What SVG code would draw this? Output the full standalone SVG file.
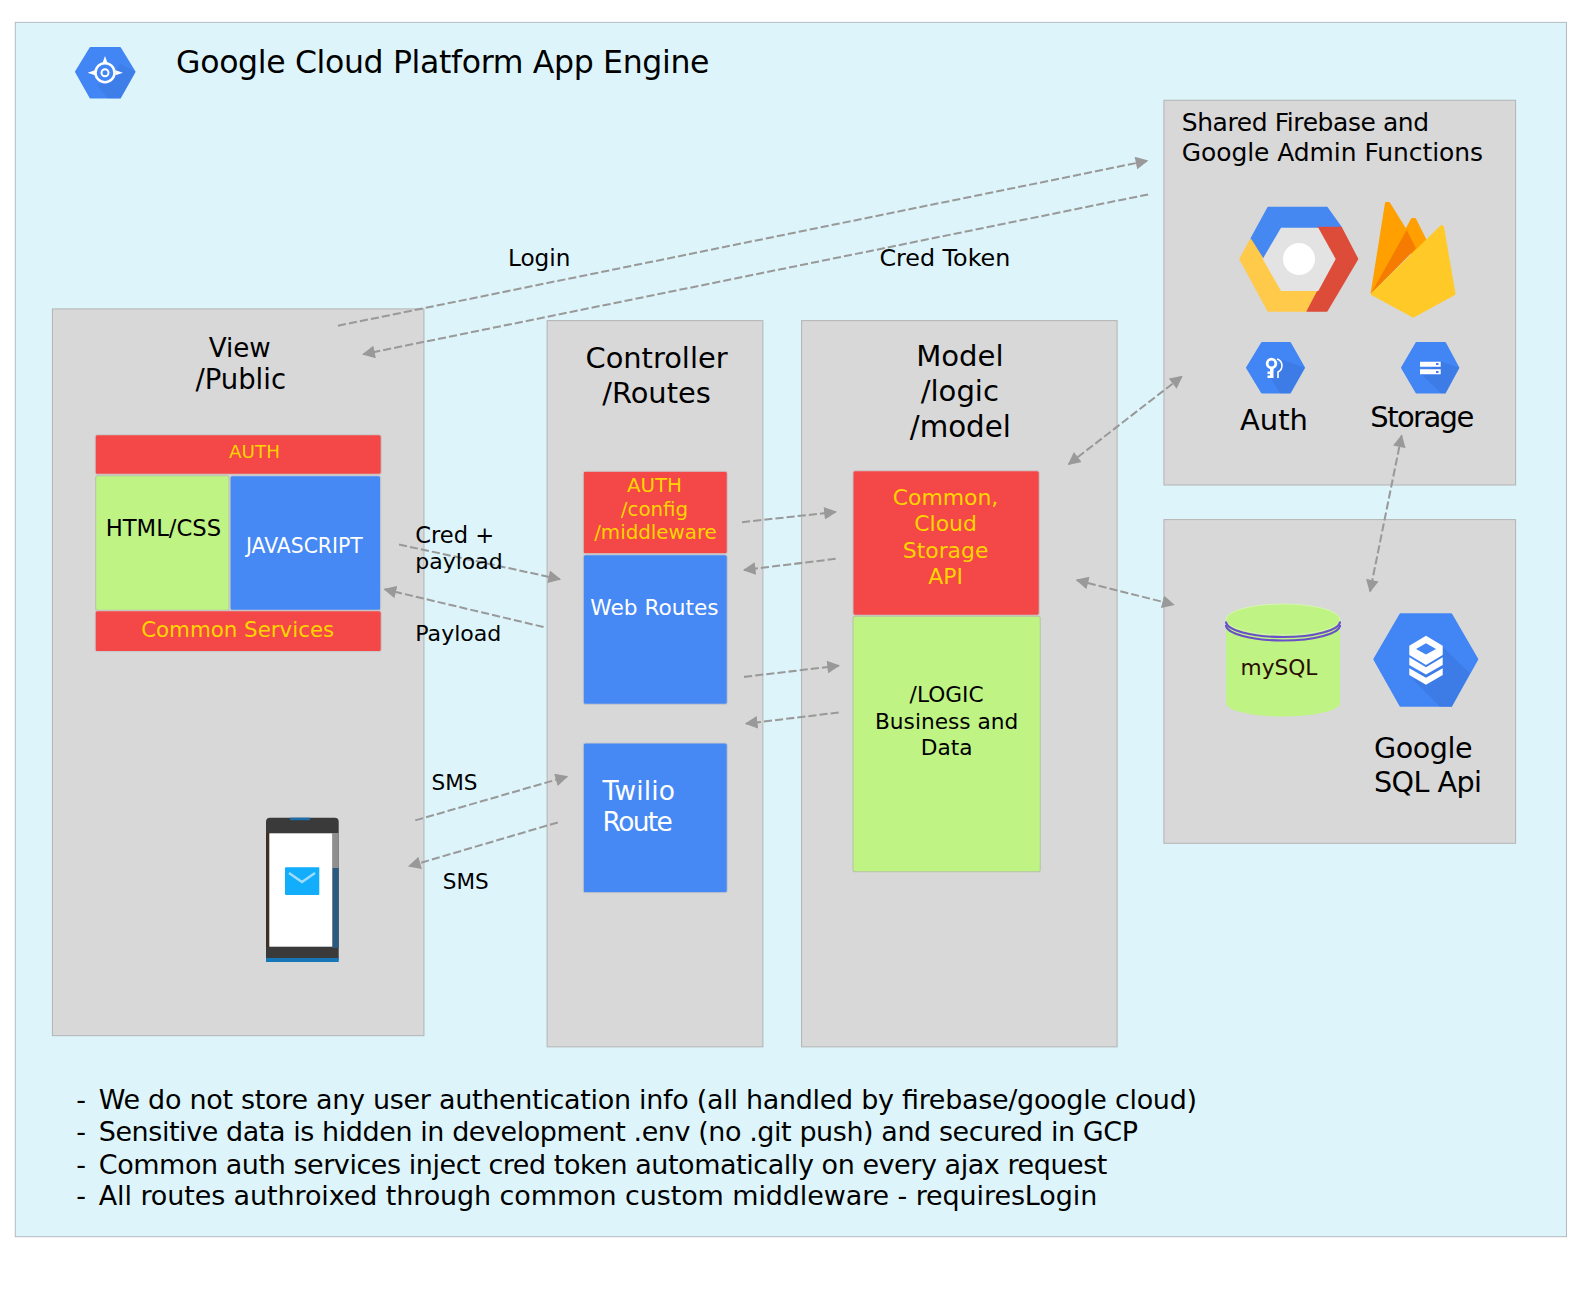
<svg xmlns="http://www.w3.org/2000/svg" width="1596" height="1296" viewBox="0 0 1596 1296">
<style>
text{font-family:"DejaVu Sans","Liberation Sans",sans-serif;fill:#000}
.panel{fill:#d8d8d8;stroke:#b4b4b4;stroke-width:1}
.red{fill:#f44747;stroke:#c9c9c9;stroke-width:1}
.green{fill:#bff384;stroke:#b4c4a4;stroke-width:1}
.blue{fill:#4688f4;stroke:#c9c9c9;stroke-width:1}
.y{fill:#ffd500}
.w{fill:#fff}
.m{text-anchor:middle}
.c{fill:none;stroke:#999;stroke-width:2;stroke-dasharray:8 3}
.hex{fill:#4285f4;stroke:#4285f4;stroke-width:2;stroke-linejoin:round}
.shade{fill:#3a77dc}
.rj{stroke-width:2;stroke-linejoin:round}
</style>
<defs>
<marker id="a" viewBox="0 0 10 10" refX="9" refY="5" markerWidth="13" markerHeight="12.500" markerUnits="userSpaceOnUse" orient="auto-start-reverse"><path d="M0 0L10 5L0 10Z" fill="#999"/></marker>
</defs>
<g id="scene" transform="scale(1.01786)">
<rect id="background" x="15" y="22" width="1524" height="1193" fill="#ddf5fa" stroke="#b4bcc0"/>
<g id="title">
<text x="173" y="72" font-size="31" textLength="524">Google Cloud Platform App Engine</text>
</g>
<g id="view">
<rect class="panel" x="51.500" y="303.500" width="365" height="714"/>
<text class="m" x="235.500" y="351" font-size="25.700">View</text>
<text class="m" x="236.500" y="382" font-size="27">/Public</text>
</g>
<g id="view-auth"><rect class="red" x="93.500" y="427" width="281" height="39" rx="2"/><text class="y m" x="250" y="450" font-size="18">AUTH</text></g>
<g id="view-html"><rect class="green" x="94" y="467.500" width="131" height="132" rx="2"/><text class="m" x="160.500" y="527" font-size="22.300">HTML/CSS</text></g>
<g id="view-js"><rect class="blue" x="226" y="467.500" width="148" height="132" rx="2"/><text class="w m" x="299" y="543" font-size="20">JAVASCRIPT</text></g>
<g id="view-common"><rect class="red" x="93.500" y="600" width="281" height="40" rx="2"/><text class="y m" x="233.500" y="626" font-size="21">Common Services</text></g>
<g id="controller">
<rect class="panel" x="537.500" y="315" width="212" height="713.500"/>
<text class="m" x="645" y="362" font-size="28.400">Controller</text>
<text class="m" x="645" y="396" font-size="28.400">/Routes</text>
</g>
<g id="controller-auth"><rect class="red" x="573" y="463" width="141.500" height="81" rx="2"/>
<text class="y m" x="643" y="483" font-size="19.500">AUTH</text><text class="y m" x="643" y="507" font-size="19.500">/config</text><text class="y m" x="644" y="530" font-size="19.500">/middleware</text></g>
<g id="web-routes"><rect class="blue" x="573" y="545" width="141.500" height="147" rx="2"/><text class="w m" x="643" y="604" font-size="21.300">Web Routes</text></g>
<g id="twilio-route"><rect class="blue" x="573" y="730" width="141.500" height="147" rx="2"/><text class="w" x="592" y="786" font-size="26" textLength="71">Twilio</text><text class="w" x="592" y="816" font-size="26" textLength="69">Route</text></g>
<g id="model">
<rect class="panel" x="787.500" y="315" width="310" height="713.500"/>
<text class="m" x="943" y="360" font-size="28.600">Model</text>
<text class="m" x="943" y="394" font-size="28.600">/logic</text>
<text class="m" x="943.500" y="429" font-size="28.800">/model</text>
</g>
<g id="model-common"><rect class="red" x="838" y="462.500" width="183" height="142" rx="2"/>
<text class="y m" x="929" y="496" font-size="21.500">Common,</text><text class="y m" x="929" y="522" font-size="21.500">Cloud</text><text class="y m" x="929" y="548" font-size="21.500">Storage</text><text class="y m" x="929" y="574" font-size="21.500">API</text></g>
<g id="model-logic"><rect class="green" x="838" y="605.500" width="184" height="251" rx="2"/>
<text class="m" x="930" y="690" font-size="21.300">/LOGIC</text><text class="m" x="930" y="716" font-size="21.300">Business and</text><text class="m" x="930" y="742" font-size="21.300">Data</text></g>
<g id="firebase">
<rect class="panel" x="1143.500" y="98.500" width="345.500" height="378"/>
<text x="1161" y="129" font-size="24.500" textLength="243">Shared Firebase and</text>
<text x="1161" y="158" font-size="24.500" textLength="296">Google Admin Functions</text>
</g>
<g id="sql-panel"><rect class="panel" x="1143.500" y="510.500" width="345.500" height="318"/></g>
<g id="connectors">
<path class="c" d="M332 320L1127 158" marker-end="url(#a)"/>
<path class="c" d="M1128 191L357 348" marker-end="url(#a)"/>
<path class="c" d="M392 535L550 569" marker-end="url(#a)"/>
<path class="c" d="M534 616L378 579" marker-end="url(#a)"/>
<path class="c" d="M408 806L557 763" marker-end="url(#a)"/>
<path class="c" d="M548 808L402 851" marker-end="url(#a)"/>
<path class="c" d="M729 513L821 503" marker-end="url(#a)"/>
<path class="c" d="M821 549L731 560" marker-end="url(#a)"/>
<path class="c" d="M731 665L824 654" marker-end="url(#a)"/>
<path class="c" d="M824 700L733 711" marker-end="url(#a)"/>
<path class="c" d="M1050 456L1161 370" marker-start="url(#a)" marker-end="url(#a)"/>
<path class="c" d="M1058 570L1153 594" marker-start="url(#a)" marker-end="url(#a)"/>
<path class="c" d="M1377 428L1346 581" marker-start="url(#a)" marker-end="url(#a)"/>
</g>
<g id="labels">
<text x="499" y="261" font-size="22.800">Login</text>
<text x="864" y="261" font-size="23.400">Cred Token</text>
<text x="408" y="533" font-size="22.200">Cred +</text>
<text x="408" y="559" font-size="21.600">payload</text>
<text x="408" y="630" font-size="21.700">Payload</text>
<text x="424" y="776" font-size="21.200">SMS</text>
<text x="435" y="873" font-size="21.200">SMS</text>
</g>
<g id="notes" font-size="26.500">
<text x="75" y="1090">-<tspan x="97" textLength="1079">We do not store any user authentication info (all handled by firebase/google cloud)</tspan></text>
<text x="75" y="1121">-<tspan x="97" textLength="1021">Sensitive data is hidden in development .env (no .git push) and secured in GCP</tspan></text>
<text x="75" y="1153">-<tspan x="97" textLength="991">Common auth services inject cred token automatically on every ajax request</tspan></text>
<text x="75" y="1184">-<tspan x="97" textLength="981">All routes authroixed through common custom middleware - requiresLogin</tspan></text>
</g>
</g>
<g id="app-engine-icon">
<path class="hex" d="M76 71.700L90.500 48H120L134.500 71.700L120 97.500H90.500Z"/>
<path class="shade" d="M112 80L120 64L135.500 71.700L120.700 98.300H108L97 85Z" opacity=".5"/>
<circle cx="105" cy="72.700" r="9.500" fill="none" stroke="#fff" stroke-width="2.500"/>
<circle cx="105" cy="72.700" r="3.500" fill="none" stroke="#fff" stroke-width="2"/>
<path d="M105 56l2.500 7h-5zM87.500 72.700l7.500-2.500v5zM123 72.700l-7.500-2.500v5z" fill="#fff"/>
</g>
<g id="phone">
<rect x="266" y="817.700" width="72.700" height="144.300" rx="4" fill="#3a3a3a"/>
<rect x="332.300" y="833" width="6.400" height="35" fill="#8f8f8f"/>
<rect x="332.300" y="868" width="6.400" height="80" fill="#2b5a80"/>
<rect x="266" y="833" width="3.300" height="114" fill="#3d3026"/>
<rect x="269.300" y="833.300" width="63" height="113.400" fill="#fff"/>
<rect x="285" y="867.300" width="34.300" height="27.700" rx="1" fill="#12adfb"/>
<path d="M289 873L302 882L315 873" fill="none" stroke="#9fdcfb" stroke-width="2.500"/>
<rect x="290" y="817.700" width="20" height="2.500" fill="#1a6fa8"/>
<rect x="266" y="958" width="72.700" height="4" fill="#1677b8"/>
</g>
<g id="gcp-logo">
<path class="rj" fill="#4688f1" stroke="#4688f1" d="M1251.500 238.500L1268.300 207.700H1326.700L1341 227.700H1281L1262.700 259Z"/>
<path class="rj" fill="#dd4b39" stroke="#dd4b39" d="M1318.300 227.700H1341L1357.300 259L1326.700 310.700H1307L1316.700 291L1335.700 259Z"/>
<path class="rj" fill="#ffc94a" stroke="#ffc94a" d="M1250.700 240L1240.300 259L1268.300 310.700H1305.500L1316 291H1281L1262.700 259Z"/>
<path fill="#e3e3e3" d="M1262.700 259L1281 227.700H1318.300L1335.700 259L1318.300 291H1281Z"/>
<circle cx="1299" cy="259" r="16" fill="#fff"/>
</g>
<g id="firebase-logo">
<path class="rj" fill="#ffa000" stroke="#ffa000" d="M1371.700 293L1386 203L1389 203L1407 232L1395 260Z"/>
<path class="rj" fill="#ffa000" stroke="#ffa000" d="M1406 230L1412 219L1415 219L1426 241L1412 255Z"/>
<path fill="#f57c00" d="M1370.700 294L1406.700 230L1416 248.300Z"/>
<path class="rj" fill="#ffca28" stroke="#ffca28" d="M1371.700 294L1441.500 226L1443 227L1454.500 294L1413.300 316.500Z"/>
</g>
<g id="auth-icon">
<path class="hex" d="M1247 367.700L1262 343H1290L1304 367.700L1290 392.500H1262Z"/>
<path class="shade" d="M1283 360L1304.700 367.700L1290 393.300H1280L1270 377Z" opacity=".6"/>
<circle cx="1271.500" cy="363.500" r="4.300" fill="none" stroke="#fff" stroke-width="2.800"/>
<path d="M1270 368h3.500v10h-6v-2.500h2.500v-1.500h-2.500v-2.500h2.500z" fill="#fff"/>
<path d="M1277 359a7 7 0 0 1 1 13v6" fill="none" stroke="#fff" stroke-width="1.600"/>
<text class="m" x="1274" y="430" font-size="29">Auth</text>
</g>
<g id="storage-icon">
<path class="hex" d="M1402 367.700L1416.500 343H1445L1458.300 367.700L1445 392.500H1416.500Z"/>
<path class="shade" d="M1421 374L1441 361.500L1459.300 367.700L1445 393.300H1441Z" opacity=".6"/>
<path d="M1420 361.700H1440.700V366.700H1420ZM1420 369.300H1440.700V374.300H1420ZM1436 363v2h2.500v-2zM1436 371v2h2.500v-2z" fill="#fff" fill-rule="evenodd"/>
<text class="m" x="1422.300" y="426.700" font-size="29" textLength="104">Storage</text>
</g>
<g id="mysql">
<path d="M1226 619.500A57 15.500 0 0 1 1340 619.500V703A57 13.500 0 0 1 1226 703Z" fill="#bff384"/>
<path d="M1226 619.500A57 15.500 0 0 1 1340 619.500A57 15.500 0 0 1 1226 619.500Z" fill="none" stroke="#d6f7b0" stroke-width="1"/>
<path d="M1226 621.500A57 15.500 0 0 0 1340 621.500" fill="none" stroke="#6a50c8" stroke-width="2.200"/>
<path d="M1226 625A57 15.500 0 0 0 1340 625" fill="none" stroke="#6a50c8" stroke-width="2.200"/>
<text class="m" x="1279" y="675" font-size="21.700" style="fill:#2a0f00">mySQL</text>
</g>
<g id="sql-icon">
<path class="hex" d="M1374.300 659.300L1400.500 614.300H1451.200L1477.300 659.300L1451.200 705.700H1400.500Z"/>
<path class="shade" d="M1442.700 646.700L1470 673.300L1451.700 706.700H1440L1413.300 680Z" opacity=".6"/>
<path d="M1409.300 645.700L1426 635.700L1442.700 645.700V655L1426 665L1409.300 655ZM1426 643.300L1416 649L1426 654.500L1436 649Z" fill="#fff" fill-rule="evenodd"/>
<path d="M1409.300 657.300L1426 667.300L1442.700 657.300V665L1426 674.500L1409.300 665ZM1409.300 668.300L1426 677.700L1442.700 668.300V675L1426 684.700L1409.300 675Z" fill="#fff"/>
<text x="1374" y="758.300" font-size="28.600" textLength="98.700">Google</text>
<text x="1374" y="791.700" font-size="28.600" textLength="108">SQL Api</text>
</g>
</svg>
